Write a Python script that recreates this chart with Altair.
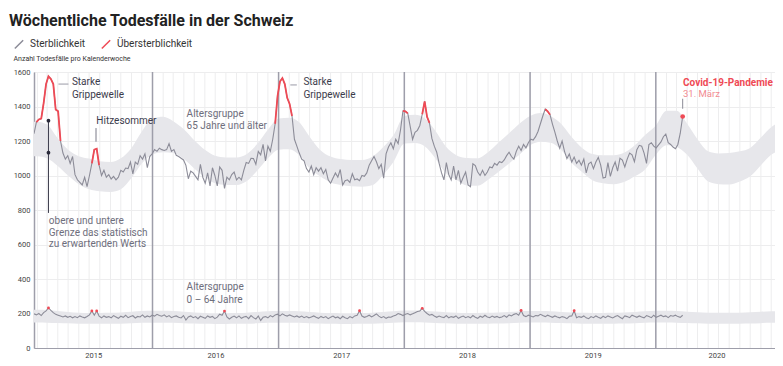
import altair as alt
import pandas as pd

TITLE = "Wöchentliche Todesfälle in der Schweiz"
Y_TITLE = "Anzahl Todesfälle pro Kalenderwoche"
SERIES_LABELS = ["Sterblichkeit", "Übersterblichkeit"]
FIRST_WEEK = "2015-01-22"
X_START, X_END = "2015-01-22", "2020-12-12"
Y_TICKS = [0, 200, 400, 600, 800, 1000, 1200, 1400, 1600]
YEAR_LABEL_DATES = ["2015-07-13", "2016-07-02", "2017-07-02", "2018-07-02", "2019-07-02", "2020-06-25"]
YEAR_STARTS = ["2016-01-01", "2017-01-01", "2018-01-01", "2019-01-01", "2020-01-01"]

# weekly deaths, age group 65+ (from week starting 2015-01-22)
deaths_65 = [
    1242, 1310, 1325, 1330, 1420, 1530, 1575, 1560, 1530, 1382, 1372, 1200,
    1130, 1095, 1115, 1070, 1110, 1005, 975, 960, 945, 990, 935, 1000,
    1070, 1150, 1155, 1060, 1000, 1030, 990, 1005, 980, 995, 975, 990,
    1030, 1020, 1043, 1040, 1078, 1010, 1078, 1065, 1115, 1095, 1126, 1045,
    1110, 1126, 1150, 1140, 1158, 1150, 1145, 1150, 1185, 1140, 1150, 1117,
    1110, 1100, 1090, 1059,
    981, 1025, 1015, 995, 975, 1065, 990, 955, 1015, 940, 1045, 1000,
    940, 1050, 1030, 925, 990, 975, 1005, 1020, 975, 990, 975, 1030,
    1075, 1070, 1100, 1098, 1065, 1140, 1120, 1180, 1085, 1170, 1140, 1210,
    1300, 1460, 1545, 1565, 1530, 1450, 1415, 1345, 1210, 1170, 1130, 1095,
    1085, 1040, 1020, 1055, 1005, 1045, 1025, 1045, 1010, 1035, 975, 955,
    985, 1015, 990, 1035, 945, 970, 975, 960, 1010, 975, 980, 970,
    1000, 995, 1015, 1060, 1085, 1110, 1080, 1040, 1065, 985, 1125, 1165,
    1190, 1155, 1210, 1185, 1265, 1375, 1372, 1360, 1285, 1210, 1250, 1262,
    1290, 1355, 1430, 1340, 1305, 1215, 1170, 1135, 1070, 1015, 975, 1075,
    1005, 975, 1055, 975, 1030, 955, 990, 1020, 945, 935, 1068, 1058,
    1020, 1000, 1030, 1000, 1020, 1050, 1045, 1070, 1060, 1080, 1075, 1090,
    1115, 1135, 1110, 1095, 1140, 1170, 1145, 1180, 1160, 1190, 1210, 1205,
    1225, 1255, 1300, 1345, 1385, 1372, 1352, 1298, 1252, 1200, 1158, 1200,
    1140, 1098, 1125, 1078, 1107, 1070, 1088, 1060, 1095, 1015, 1068, 1078,
    1040, 1078, 1105, 1060, 985, 990, 1075, 995, 1045, 1078, 1025, 1100,
    1090, 1050, 1095, 1130, 1120, 1080, 1150, 1175, 1170, 1130, 1070, 1180,
    1190, 1170, 1160, 1178, 1195, 1225, 1240, 1190, 1180, 1165, 1155, 1180, 1245, 1342,
]

# weekly deaths, age group 0-64
deaths_0_64 = [
    198, 192, 200, 188, 205, 215, 232, 218, 205, 195, 190, 185,
    180, 186, 178, 184, 175, 182, 176, 186, 180, 175, 183, 192,
    215, 190, 215, 185, 175, 186, 178, 182, 175, 188, 180, 172,
    184, 178, 190, 176, 182, 187, 174, 183, 180, 192, 178, 186,
    180, 190, 185, 195, 188, 184, 192, 180, 188, 176, 183, 186,
    178, 174, 188, 162, 180, 186, 176, 182, 170, 184, 178, 172,
    186, 178, 183, 170, 179, 196, 190, 214, 180, 168, 178, 185,
    175, 186, 172, 180, 183, 170, 188, 176, 168, 185, 160, 178,
    182, 175, 188, 180, 192, 196, 186, 198, 190, 185, 192, 186,
    180, 186, 178, 185, 176, 182, 175, 180, 186, 178, 172, 183,
    176, 182, 170, 178, 185, 175, 180, 170, 184, 176, 170, 182,
    175, 186, 190, 216, 185, 178, 183, 190, 180, 188, 198, 185,
    176, 182, 172, 180, 178, 186, 190, 200, 195, 188, 196, 200,
    192, 198, 205, 212, 215, 230, 212, 200, 190, 195, 186, 178,
    185, 180, 176, 188, 175, 182, 178, 186, 172, 180, 185, 176,
    182, 175, 188, 178, 172, 184, 178, 190, 180, 176, 185, 178,
    183, 176, 180, 188, 178, 192, 186, 195, 200, 190, 218, 188,
    182, 190, 185, 180, 188, 186, 195, 188, 182, 190, 184, 178,
    186, 180, 175, 182, 178, 170, 184, 186, 216, 176, 182, 178,
    186, 175, 170, 182, 176, 186, 178, 172, 184, 176, 186, 180,
    174, 182, 188, 178, 170, 186, 182, 176, 190, 184, 178, 186,
    180, 175, 188, 182, 176, 190, 178, 184, 190, 182, 186, 176,
    188, 184, 190, 182, 178, 190,
]

# week-index ranges drawn in red (Übersterblichkeit)
excess_65_ranges = [(1, 11), (24, 27), (100, 107), (153, 155), (161, 164), (212, 214)]
excess_0_64_weeks = [6, 24, 26, 79, 135, 161, 202, 224]

# expected-value band, read at each month start 2015-01 .. 2021-01
band65_hi = [
    1305, 1312, 1295, 1215, 1150, 1112, 1098, 1082, 1078, 1100, 1160, 1255,
    1330, 1340, 1315, 1268, 1205, 1150, 1115, 1105, 1105, 1125, 1185, 1265,
    1330, 1335, 1310, 1225, 1150, 1110, 1095, 1090, 1090, 1110, 1165, 1235,
    1345, 1352, 1332, 1260, 1170, 1118, 1102, 1100, 1135, 1190, 1245, 1300,
    1345, 1362, 1345, 1300, 1225, 1160, 1125, 1118, 1118, 1132, 1175, 1235,
    1290, 1375, 1375, 1300, 1210, 1140, 1128, 1130, 1140, 1160, 1220, 1280,
    1315,
]
band65_lo = [
    1110, 1112, 1100, 1055, 1000, 950, 920, 908, 904, 920, 985, 1070,
    1122, 1135, 1130, 1095, 1040, 990, 955, 945, 945, 968, 1030, 1100,
    1150, 1152, 1120, 1040, 995, 960, 945, 938, 935, 945, 1005, 1080,
    1185, 1188, 1170, 1100, 1015, 975, 942, 940, 975, 1020, 1070, 1120,
    1175, 1195, 1190, 1150, 1075, 1020, 972, 955, 950, 962, 995, 1035,
    1120, 1175, 1165, 1120, 1040, 965, 950, 948, 965, 995, 1060, 1120,
    1150,
]
band064_hi = [
    222, 222, 220, 214, 208, 204, 203, 203, 204, 206, 210, 214,
    216, 216, 214, 210, 206, 203, 202, 202, 203, 205, 209, 213,
    215, 215, 213, 209, 205, 203, 202, 202, 203, 205, 209, 213,
    218, 218, 216, 211, 207, 204, 203, 203, 204, 206, 209, 212,
    214, 214, 213, 209, 206, 204, 203, 203, 204, 206, 209, 213,
    216, 216, 214, 210, 207, 205, 204, 204, 205, 207, 210, 213,
    214,
]
band064_lo = [
    148, 148, 147, 145, 143, 141, 140, 140, 140, 141, 143, 146,
    147, 147, 146, 144, 142, 140, 139, 139, 140, 141, 143, 146,
    147, 147, 146, 144, 142, 140, 139, 139, 140, 141, 143, 146,
    149, 149, 148, 145, 143, 141, 140, 140, 141, 142, 144, 147,
    148, 148, 147, 145, 143, 141, 140, 140, 141, 142, 144, 147,
    148, 148, 147, 145, 143, 141, 140, 140, 141, 142, 144, 146,
    146,
]

# annotations: (date, value, text)
notes_dark = [
    ("2015-05-12", 1522, "Starke"), ("2015-05-12", 1450, "Grippewelle"),
    ("2017-03-14", 1522, "Starke"), ("2017-03-14", 1450, "Grippewelle"),
    ("2015-07-22", 1301, "Hitzesommer"),
]
notes_gray = [
    ("2016-04-09", 1338, "Altersgruppe"), ("2016-04-09", 1268, "65 Jahre und älter"),
    ("2015-03-06", 719, "obere und untere"), ("2015-03-06", 651, "Grenze das statistisch"),
    ("2015-03-06", 584, "zu erwartenden Werts"),
    ("2016-04-09", 334, "Altersgruppe"), ("2016-04-09", 258, "0 – 64 Jahre"),
]
covid_note = ("2020-03-20", 1521, "Covid-19-Pandemie")
covid_date_note = ("2020-03-20", 1456, "31. März")
dash_lines = [("2015-04-03", "2015-05-02", 1530), ("2017-02-04", "2017-02-23", 1525)]
leader_lines = [("2015-07-21", 1196, 1275), ("2015-03-05", 783, 1318), ("2020-03-19", 1387, 1445)]
band_marker_values = [1318, 1132]
band_marker_date = "2015-03-05"

GRAY = "#8c8c98"
RED = "#ef4a55"
BAND = "#e7e7eb"
GRID = "#ededee"
YEARLINE = "#9e9eaa"
DARK = "#3b3b4b"
MID = "#6e6e7c"
FONT = "Roboto"

# ---------------------------------------------------------------- data frames
weeks65 = pd.date_range(FIRST_WEEK, periods=len(deaths_65), freq="7D")
weeks064 = pd.date_range(FIRST_WEEK, periods=len(deaths_0_64), freq="7D")
obs = pd.concat([
    pd.DataFrame({"date": weeks65, "value": deaths_65, "group": "65"}),
    pd.DataFrame({"date": weeks064, "value": deaths_0_64, "group": "0-64"}),
])
obs["kind"] = SERIES_LABELS[0]

red_rows = []
for s, (a, b) in enumerate(excess_65_ranges):
    for i in range(a, b + 1):
        red_rows.append({"date": weeks65[i], "value": deaths_65[i], "seg": s, "kind": SERIES_LABELS[1]})
red = pd.DataFrame(red_rows)
red_pts = pd.DataFrame({"date": [weeks064[i] for i in excess_0_64_weeks],
                        "value": [deaths_0_64[i] for i in excess_0_64_weeks]})
covid_pt = pd.DataFrame({"date": [weeks65[-1]], "value": [deaths_65[-1]]})

months = pd.date_range("2015-01-01", "2021-01-01", freq="MS")
band = pd.concat([
    pd.DataFrame({"date": months, "hi": band65_hi, "lo": band65_lo, "group": "65"}),
    pd.DataFrame({"date": months, "hi": band064_hi, "lo": band064_lo, "group": "0-64"}),
])
grid_months = pd.DataFrame({"date": pd.date_range("2015-02-01", "2020-12-01", freq="MS")})
year_df = pd.DataFrame({"date": pd.to_datetime(YEAR_STARTS)})

def tdf(rows):
    return pd.DataFrame(rows, columns=["date", "value", "text"])

# ---------------------------------------------------------------- encodings
x_scale = alt.Scale(domain=[X_START, X_END])
y_scale = alt.Scale(domain=[0, 1600], nice=False)
x_axis = alt.Axis(values=[alt.DateTime(year=int(d[:4]), month=int(d[5:7]), date=int(d[8:])) for d in YEAR_LABEL_DATES],
                  format="%Y", title=None, grid=False, ticks=False, tickSize=0, labelPadding=3,
                  labelFontSize=7.5, labelColor="#444444", domainColor=YEARLINE, domainWidth=1.2,
                  labelFont=FONT)
y_axis = alt.Axis(values=Y_TICKS, format="d", title=Y_TITLE, grid=True, gridColor=GRID, ticks=False, tickSize=0,
                  labelPadding=4, labelFontSize=7.5, labelColor="#444444", labelFont=FONT,
                  domainColor=YEARLINE, domainWidth=1.5,
                  titleAngle=0, titleAlign="left", titleBaseline="alphabetic", titleX=-21, titleY=-12,
                  titleFontSize=7, titleFontWeight="normal", titleColor="#333333", titleFont=FONT)

def X(field="date"):
    return alt.X(f"{field}:T", scale=x_scale, axis=x_axis)

def Y(field="value"):
    return alt.Y(f"{field}:Q", scale=y_scale, axis=y_axis)

color = alt.Color("kind:N", scale=alt.Scale(domain=SERIES_LABELS, range=[GRAY, RED]),
                  legend=alt.Legend(title=None, orient="none", legendX=-20, legendY=-33,
                                    direction="horizontal", symbolType="M-1,1L1,-1",
                                    symbolSize=70, symbolStrokeWidth=1.5, labelFontSize=10,
                                    labelColor="#333333", labelFont=FONT, columnPadding=12,
                                    labelOffset=6))

# ---------------------------------------------------------------- layers
month_rules = alt.Chart(grid_months).mark_rule(color=GRID, strokeWidth=1).encode(x=X())
band_area = alt.Chart(band).mark_area(color=BAND, interpolate="monotone", clip=True).encode(
    x=X(), y=Y("hi"), y2="lo:Q", detail="group:N")
year_rules = alt.Chart(year_df).mark_rule(color=YEARLINE, strokeWidth=1.5).encode(x=X())
gray_lines = alt.Chart(obs).mark_line(strokeWidth=1.1, clip=True).encode(
    x=X(), y=Y(), color=color, detail="group:N")
red_lines = alt.Chart(red).mark_line(strokeWidth=1.8, clip=True).encode(
    x=X(), y=Y(), color=color, detail="seg:N")
red_dots = alt.Chart(red_pts).mark_circle(color=RED, size=8, opacity=1).encode(x=X(), y=Y())
covid_dot = alt.Chart(covid_pt).mark_circle(color=RED, size=22, opacity=1).encode(x=X(), y=Y())

dash_df = pd.DataFrame(dash_lines, columns=["d1", "d2", "value"])
dashes = alt.Chart(dash_df).mark_rule(color="#9a9aa6", strokeWidth=1).encode(
    x=X("d1"), x2="d2:T", y=Y())
lead_df = pd.DataFrame(leader_lines[:1], columns=["date", "v1", "v2"])
leaders = alt.Chart(lead_df).mark_rule(color="#7a7a88", strokeWidth=1).encode(
    x=X(), y=Y("v1"), y2="v2:Q")
band_df = pd.DataFrame(leader_lines[1:2], columns=["date", "v1", "v2"])
band_leader = alt.Chart(band_df).mark_rule(color="#3b3b4b", strokeWidth=1).encode(
    x=X(), y=Y("v1"), y2="v2:Q")
band_dots = alt.Chart(pd.DataFrame({"date": [band_marker_date] * 2, "value": band_marker_values})).mark_circle(
    color="#2b2b3b", size=14, opacity=1).encode(x=X(), y=Y())
cov_df = pd.DataFrame(leader_lines[2:], columns=["date", "v1", "v2"])
cov_leader = alt.Chart(cov_df).mark_rule(color="#8a8a96", strokeWidth=1).encode(
    x=X(), y=Y("v1"), y2="v2:Q")

txt_dark = alt.Chart(tdf(notes_dark)).mark_text(align="left", baseline="alphabetic", fontSize=10,
                                                color=DARK, font=FONT).encode(x=X(), y=Y(), text="text:N")
txt_gray = alt.Chart(tdf(notes_gray)).mark_text(align="left", baseline="alphabetic", fontSize=10,
                                                color=MID, font=FONT).encode(x=X(), y=Y(), text="text:N")
txt_cov = alt.Chart(tdf([covid_note])).mark_text(align="left", baseline="alphabetic", fontSize=10,
                                                 fontWeight="bold", color=RED, font=FONT).encode(
    x=X(), y=Y(), text="text:N")
txt_cov2 = alt.Chart(tdf([covid_date_note])).mark_text(align="left", baseline="alphabetic", fontSize=9.5,
                                                       color="#f28a91", font=FONT).encode(
    x=X(), y=Y(), text="text:N")

chart = alt.layer(
    month_rules, band_area, year_rules, gray_lines, red_lines, red_dots, covid_dot,
    dashes, leaders, band_leader, band_dots, cov_leader,
    txt_dark, txt_gray, txt_cov, txt_cov2,
).properties(
    width=741, height=276,
    padding={"left": 26, "top": 64, "right": 0, "bottom": 12},
    autosize=alt.AutoSizeParams(type="none"),
    title=alt.TitleParams(TITLE, anchor="start", frame="group", fontSize=16, fontWeight="bold",
                          color="#222222", font=FONT, dx=-25, dy=-10, offset=0),
).configure_view(stroke=None).configure(font=FONT).configure_axis(titleColor="#333333")

chart.save("out.html", embed_options={"renderer": "svg", "actions": False})
